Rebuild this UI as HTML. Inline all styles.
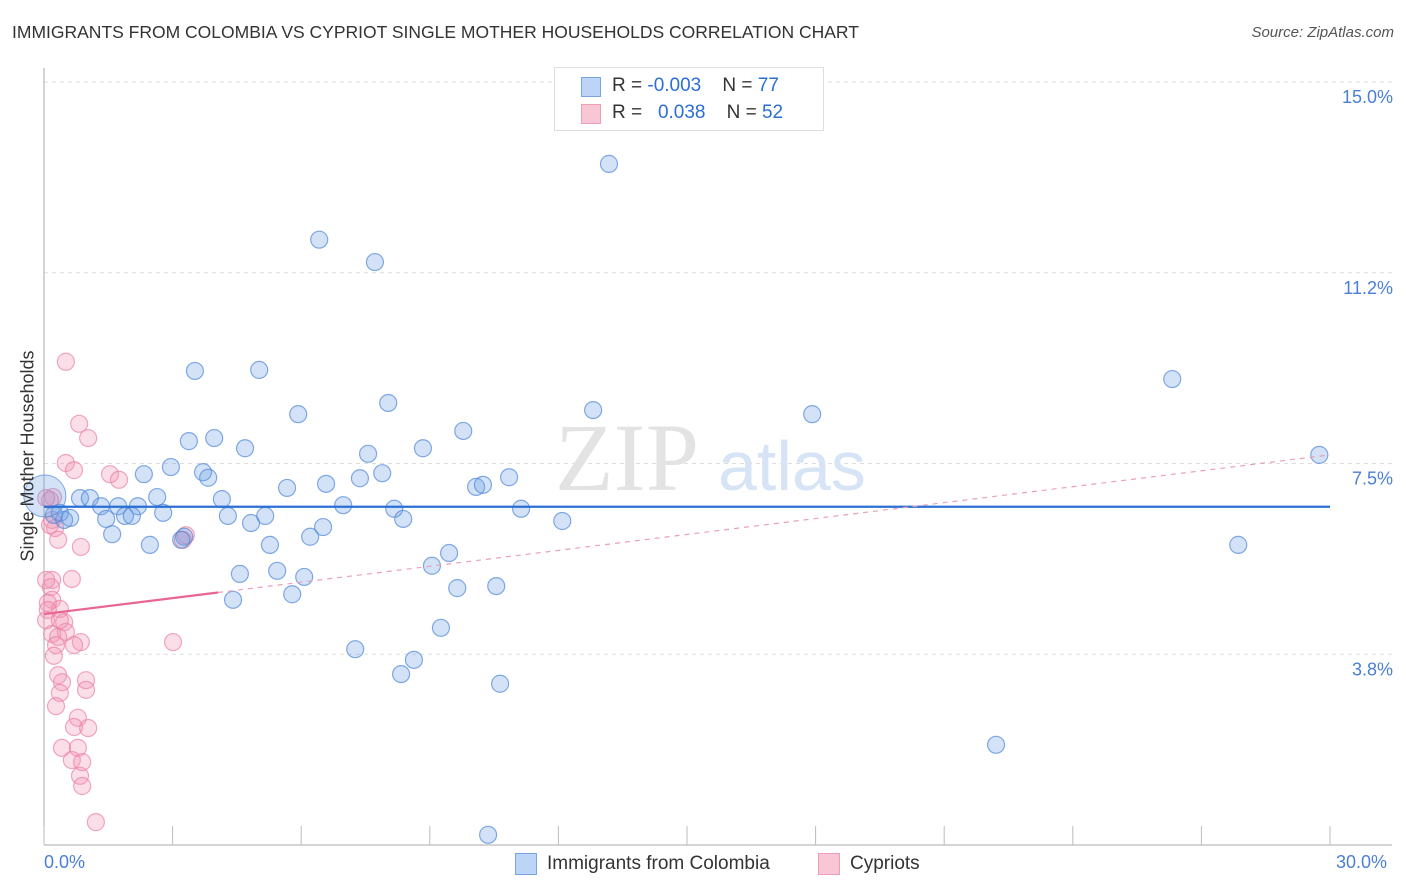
<!DOCTYPE html>
<html><head><meta charset="utf-8"><style>
body{margin:0;background:#fff;font-family:"Liberation Sans",sans-serif;}
#wrap{position:relative;width:1406px;height:892px;overflow:hidden;}
.t{position:absolute;white-space:nowrap;}
</style></head><body>
<div id="wrap">
<div class="t" style="left:12px;top:22px;font-size:17.5px;color:#333;">IMMIGRANTS FROM COLOMBIA VS CYPRIOT SINGLE MOTHER HOUSEHOLDS CORRELATION CHART</div>
<div class="t" style="right:12px;top:24px;font-size:15px;color:#555;font-style:italic;">Source: ZipAtlas.com</div>
<svg id="svg" width="1406" height="892" style="position:absolute;left:0;top:0;"></svg>
</div>
<script>
const xTicks=[0,3,6,9,12,15,18,21,24,27,30];
const yTicks=[3.75,7.5,11.25,15];
const yTickLabels=["3.8%","7.5%","11.2%","15.0%"];
const blueX=[13.18,6.42,7.72,3.52,5.02,26.32,8.03,5.93,12.81,17.92,9.78,3.38,3.97,4.69,8.84,7.56,2.33,2.96,3.71,3.83,7.89,10.85,6.58,10.08,10.24,5.67,7.37,0.84,1.07,2.64,4.15,1.73,2.19,1.33,6.98,8.17,11.13,0.37,0.47,1.45,1.89,2.05,2.78,4.29,5.16,8.38,12.09,4.83,6.51,1.59,6.21,29.75,3.27,3.20,2.47,5.27,27.86,9.45,9.05,4.57,5.44,6.07,9.64,10.55,5.79,4.41,9.26,7.26,8.63,8.33,10.64,22.21,10.36,0.23,0.61];
const blueY=[13.39,11.90,11.46,9.32,9.34,9.16,8.69,8.47,8.55,8.47,8.14,7.94,8.00,7.80,7.80,7.69,7.29,7.43,7.33,7.22,7.31,7.23,7.10,7.04,7.08,7.02,7.21,6.82,6.82,6.84,6.80,6.66,6.66,6.66,6.68,6.61,6.61,6.53,6.39,6.41,6.47,6.47,6.53,6.47,6.47,6.41,6.37,6.33,6.25,6.11,6.06,7.67,6.06,6.00,5.90,5.90,5.90,5.74,5.49,5.33,5.39,5.27,5.05,5.09,4.93,4.82,4.27,3.85,3.64,3.36,3.17,1.97,0.20,6.49,6.43];
const pinkX=[0.51,0.82,1.03,0.51,0.70,1.54,1.75,0.21,0.19,0.26,0.33,0.86,3.31,3.24,0.65,0.19,0.16,0.19,0.09,0.37,0.47,0.19,0.33,0.51,0.86,0.28,0.23,3.01,0.98,0.33,0.42,0.98,0.37,0.28,0.79,0.70,1.03,0.42,0.79,0.65,0.89,0.84,0.89,1.21,0.05,0.09,0.14,0.05,0.14,0.05,0.70,0.37];
const pinkY=[9.50,8.28,8.00,7.51,7.37,7.29,7.18,6.84,6.39,6.23,6.00,5.86,6.09,6.00,5.23,5.21,5.07,4.82,4.76,4.64,4.38,4.15,4.09,4.19,3.99,3.93,3.72,3.99,3.24,3.34,3.20,3.05,2.99,2.73,2.50,2.32,2.30,1.91,1.91,1.67,1.63,1.36,1.16,0.45,5.21,4.62,6.78,6.82,6.29,4.42,3.93,4.42];
const blueTrend=[6.65,6.65];
const pinkTrend=[4.54,7.67];
const pinkSolidEnd=4.06;

const X=v=>44+v/30*1286, Y=v=>845-v/15*763;
const svg=document.getElementById('svg');const NS='http://www.w3.org/2000/svg';
function mk(tag,attrs,name){const e=document.createElementNS(NS,tag);for(const k in attrs)e.setAttribute(k,attrs[k]);


svg.appendChild(e);return e;}
// grid
yTicks.forEach((v,i)=>{mk('line',{x1:44,x2:1392,y1:Y(v),y2:Y(v),stroke:'#ddd','stroke-dasharray':'4,4'},'grid-line');
const t=mk('text',{x:1393,y:Y(v)+21,'text-anchor':'end','font-size':18,fill:'#4a7fd6'},'y-tick-label');t.textContent=yTickLabels[i];});
mk('line',{x1:44,x2:44,y1:68,y2:845,stroke:'#aaa'},'y-axis');
mk('line',{x1:44,x2:1392,y1:845,y2:845,stroke:'#aaa'},'x-axis');
xTicks.forEach(v=>mk('line',{x1:X(v),x2:X(v),y1:826,y2:845,stroke:'#bbb'},'x-tick'));
// watermark
let w=mk('text',{x:555,y:490,'font-size':96,fill:'#e3e3e3','font-family':'Liberation Serif'},'watermark-zip');w.textContent='ZIP';
w=mk('text',{x:718,y:490,'font-size':70,fill:'#d6e4f5'},'watermark-atlas');w.textContent='atlas';
// points
pinkX.forEach((v,i)=>mk('circle',{cx:X(v),cy:Y(pinkY[i]),r:8.5,fill:'rgba(242,150,180,0.3)',stroke:'rgba(235,130,165,0.7)','stroke-width':1.2},'cypriot-point'));
blueX.forEach((v,i)=>mk('circle',{cx:X(v),cy:Y(blueY[i]),r:8.5,fill:'rgba(110,160,230,0.3)',stroke:'rgba(80,135,215,0.7)','stroke-width':1.2},'colombia-point'));
mk('circle',{cx:X(0.02),cy:Y(6.86),r:21,fill:'rgba(110,160,230,0.3)',stroke:'rgba(80,135,215,0.7)'},'colombia-point-large');
// trends
mk('line',{x1:X(0),x2:X(30),y1:Y(blueTrend[0]),y2:Y(blueTrend[1]),stroke:'#2a6fd4','stroke-width':2.2},'colombia-trend-line');
const py=v=>pinkTrend[0]+(pinkTrend[1]-pinkTrend[0])*v/30;
mk('line',{x1:X(pinkSolidEnd),x2:X(30),y1:Y(py(pinkSolidEnd)),y2:Y(py(30)),stroke:'#eaa0b8','stroke-width':1.2,'stroke-dasharray':'5,5'},'cypriot-trend-dashed');
mk('line',{x1:X(0),x2:X(pinkSolidEnd),y1:Y(py(0)),y2:Y(py(pinkSolidEnd)),stroke:'#e8668f','stroke-width':2.2},'cypriot-trend-line');
</script>
<div class="t" style="left:28px;top:456px;font-size:18px;color:#333;transform:translate(-50%,-50%) rotate(-90deg);">Single Mother Households</div>
<div class="t" style="left:44px;top:852px;font-size:18px;color:#4a7fd6;">0.0%</div>
<div class="t" style="left:1336px;top:852px;font-size:18px;color:#4a7fd6;">30.0%</div>
<div style="position:absolute;left:554px;top:67px;width:268px;height:62px;border:1px solid #ddd;background:#fff;font-size:19px;color:#333;">
 <div style="position:absolute;left:26px;top:9px;width:18px;height:18px;background:#bcd4f5;border:1px solid #7aa5e5;"></div>
 <div class="t" style="left:57px;top:7px;">R = <span style="color:#2a6fd4">-0.003</span>&nbsp;&nbsp;&nbsp; N = <span style="color:#2a6fd4">77</span></div>
 <div style="position:absolute;left:26px;top:36px;width:18px;height:18px;background:#f8c6d5;border:1px solid #eea0b8;"></div>
 <div class="t" style="left:57px;top:34px;">R = &nbsp;&nbsp;<span style="color:#2a6fd4">0.038</span>&nbsp;&nbsp;&nbsp; N = <span style="color:#2a6fd4">52</span></div>
</div>
<div style="position:absolute;left:515px;top:853px;font-size:19px;color:#333;">
 <div style="position:absolute;left:0;top:0;width:20px;height:20px;background:#bcd4f5;border:1px solid #7aa5e5;"></div>
 <div class="t" style="left:32px;top:0;">Immigrants from Colombia</div>
 <div style="position:absolute;left:303px;top:0;width:20px;height:20px;background:#f8c6d5;border:1px solid #eea0b8;"></div>
 <div class="t" style="left:335px;top:0;">Cypriots</div>
</div>
</body></html>
